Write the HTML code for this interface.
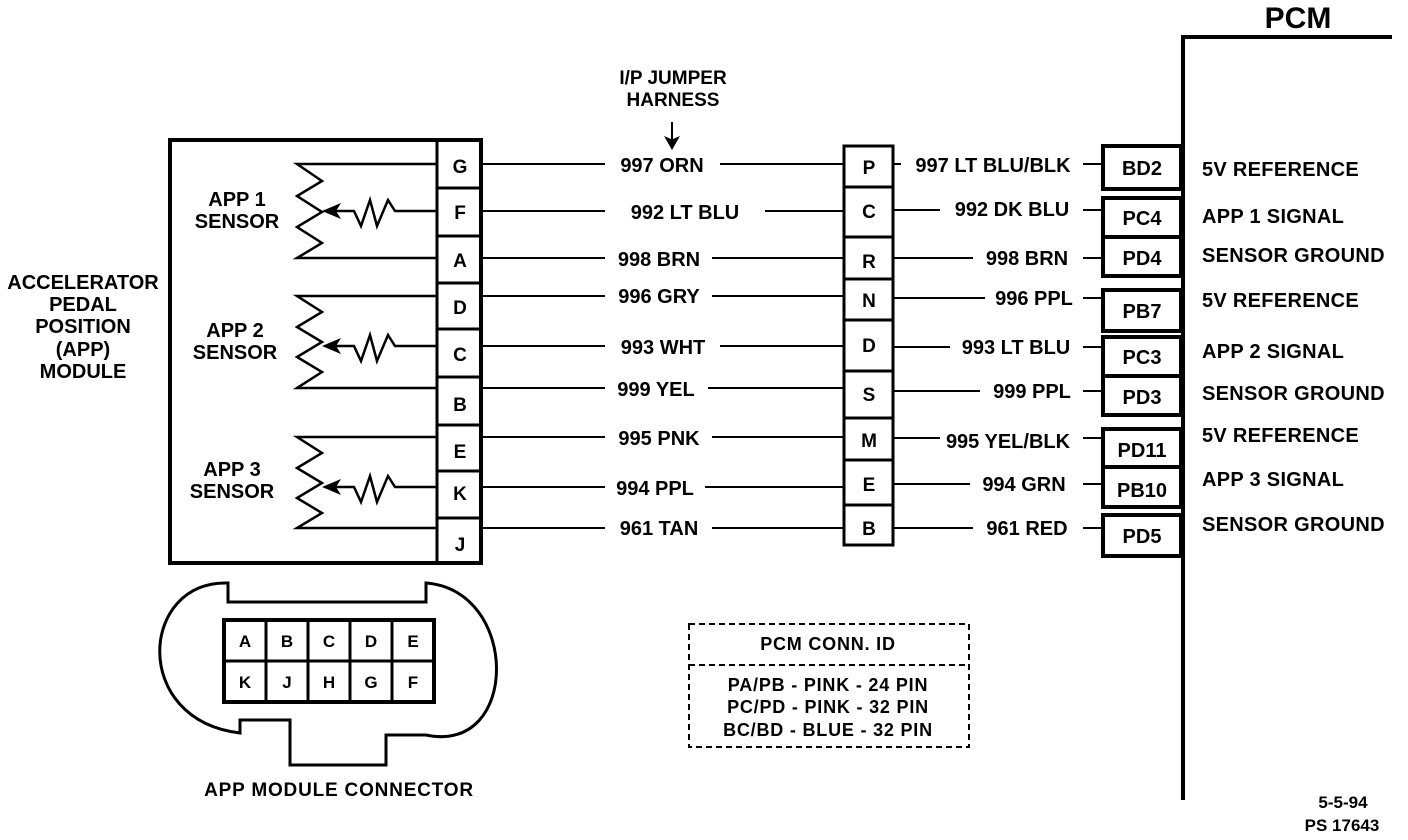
<!DOCTYPE html>
<html><head><meta charset="utf-8"><style>
html,body{margin:0;padding:0;background:#fff;}
svg{display:block;}
text{font-family:"Liberation Sans",sans-serif;font-weight:bold;fill:#000;}
</style></head><body>
<svg width="1408" height="840" viewBox="0 0 1408 840" xmlns="http://www.w3.org/2000/svg">
<g stroke="#000" fill="none">
<line x1="1183" y1="36" x2="1183" y2="800" stroke-width="4"/>
<line x1="1181" y1="37" x2="1392" y2="37" stroke-width="4"/>
<rect x="170" y="140" width="311" height="423" stroke-width="4"/>
<line x1="437" y1="140" x2="437" y2="563" stroke-width="3"/>
<g stroke-width="3">
<line x1="437" y1="188" x2="481" y2="188"/><line x1="437" y1="236" x2="481" y2="236"/>
<line x1="437" y1="283" x2="481" y2="283"/><line x1="437" y1="329" x2="481" y2="329"/>
<line x1="437" y1="377" x2="481" y2="377"/><line x1="437" y1="425" x2="481" y2="425"/>
<line x1="437" y1="471" x2="481" y2="471"/><line x1="437" y1="518" x2="481" y2="518"/>
</g>
<rect x="844" y="146" width="49" height="399" stroke-width="3"/>
<g stroke-width="3">
<line x1="844" y1="187" x2="893" y2="187"/><line x1="844" y1="237" x2="893" y2="237"/>
<line x1="844" y1="279" x2="893" y2="279"/><line x1="844" y1="320" x2="893" y2="320"/>
<line x1="844" y1="371" x2="893" y2="371"/><line x1="844" y1="418" x2="893" y2="418"/>
<line x1="844" y1="460" x2="893" y2="460"/><line x1="844" y1="505" x2="893" y2="505"/>
</g>
<g stroke-width="4">
<rect x="1103" y="146" width="78" height="43"/>
<rect x="1103" y="198" width="78" height="78"/>
<line x1="1103" y1="237" x2="1181" y2="237"/>
<rect x="1103" y="290" width="78" height="41"/>
<rect x="1103" y="337" width="78" height="78"/>
<line x1="1103" y1="376" x2="1181" y2="376"/>
<rect x="1103" y="429" width="78" height="78"/>
<line x1="1103" y1="467" x2="1181" y2="467"/>
<rect x="1103" y="515" width="78" height="41"/>
</g>
<g stroke-width="2">
<line x1="481" y1="164" x2="605" y2="164"/><line x1="720" y1="164" x2="844" y2="164"/>
<line x1="481" y1="211" x2="605" y2="211"/><line x1="765" y1="211" x2="844" y2="211"/>
<line x1="481" y1="258" x2="605" y2="258"/><line x1="712" y1="258" x2="844" y2="258"/>
<line x1="481" y1="296" x2="605" y2="296"/><line x1="712" y1="296" x2="844" y2="296"/>
<line x1="481" y1="346" x2="605" y2="346"/><line x1="720" y1="346" x2="844" y2="346"/>
<line x1="481" y1="388" x2="605" y2="388"/><line x1="708" y1="388" x2="844" y2="388"/>
<line x1="481" y1="437" x2="605" y2="437"/><line x1="712" y1="437" x2="844" y2="437"/>
<line x1="481" y1="487" x2="605" y2="487"/><line x1="705" y1="487" x2="844" y2="487"/>
<line x1="481" y1="528" x2="605" y2="528"/><line x1="712" y1="528" x2="844" y2="528"/>
<line x1="893" y1="164" x2="901" y2="164"/><line x1="1083" y1="164" x2="1103" y2="164"/>
<line x1="893" y1="210" x2="940" y2="210"/><line x1="1083" y1="210" x2="1103" y2="210"/>
<line x1="893" y1="258" x2="973" y2="258"/><line x1="1083" y1="258" x2="1103" y2="258"/>
<line x1="893" y1="298" x2="985" y2="298"/><line x1="1083" y1="298" x2="1103" y2="298"/>
<line x1="893" y1="347" x2="950" y2="347"/><line x1="1083" y1="347" x2="1103" y2="347"/>
<line x1="893" y1="391" x2="980" y2="391"/><line x1="1083" y1="391" x2="1103" y2="391"/>
<line x1="893" y1="438" x2="940" y2="438"/><line x1="1083" y1="438" x2="1103" y2="438"/>
<line x1="893" y1="484" x2="970" y2="484"/><line x1="1083" y1="484" x2="1103" y2="484"/>
<line x1="893" y1="528" x2="973" y2="528"/><line x1="1083" y1="528" x2="1103" y2="528"/>
</g>
<g stroke-width="2.5">
<polyline points="437,164 297,164 322,181 297,196 322,212 297,227 322,243 297,258 437,258"/>
<polyline points="437,211 395,211 388,200 377,226 370,200 361,226 354,211 333,211"/>
<polyline points="437,296 297,296 322,312 297,327 322,342 297,357 322,372 297,388 437,388"/>
<polyline points="437,346 395,346 388,335 377,361 370,335 361,361 354,346 333,346"/>
<polyline points="437,437 297,437 322,453 297,468 322,483 297,498 322,513 297,528 437,528"/>
<polyline points="437,487 395,487 388,476 377,502 370,476 361,502 354,487 333,487"/>
</g>
<g fill="#000" stroke="none">
<polygon points="322,211 341,203 336,211 341,219"/>
<polygon points="322,346 341,338 336,346 341,354"/>
<polygon points="322,487 341,479 336,487 341,495"/>
<polygon points="672,150 664,136 671,139 671,122 673,122 673,139 680,136"/>
</g>
<path d="M228,583 L228,602 L426,602 L426,583 C520,590 520,755 426,735 L386,735 L386,765 L290,765 L290,720 L240,720 L240,733 C130,720 140,580 228,583 Z" stroke-width="3"/>
<rect x="224" y="620" width="210" height="82" stroke-width="4"/>
<g stroke-width="3">
<line x1="224" y1="661" x2="434" y2="661"/>
<line x1="266" y1="620" x2="266" y2="702"/><line x1="308" y1="620" x2="308" y2="702"/>
<line x1="350" y1="620" x2="350" y2="702"/><line x1="392" y1="620" x2="392" y2="702"/>
</g>
<rect x="689" y="624" width="280" height="123" stroke-width="2" stroke-dasharray="6,4"/>
<line x1="689" y1="665" x2="969" y2="665" stroke-width="2" stroke-dasharray="6,4"/>
</g>
<g font-size="20" text-anchor="middle">
<text x="1298" y="28" font-size="30">PCM</text>
<text x="673" y="84" font-size="19">I/P JUMPER</text>
<text x="673" y="106" font-size="19">HARNESS</text>
<text x="83" y="289">ACCELERATOR</text>
<text x="83" y="311">PEDAL</text>
<text x="83" y="333">POSITION</text>
<text x="83" y="356">(APP)</text>
<text x="83" y="378">MODULE</text>
<text x="237" y="206">APP 1</text><text x="237" y="228">SENSOR</text>
<text x="235" y="337">APP 2</text><text x="235" y="359">SENSOR</text>
<text x="232" y="476">APP 3</text><text x="232" y="498">SENSOR</text>
<g font-size="19">
<text x="460" y="173">G</text><text x="460" y="219">F</text><text x="460" y="267">A</text>
<text x="460" y="314">D</text><text x="460" y="361">C</text><text x="460" y="411">B</text>
<text x="460" y="458">E</text><text x="460" y="500">K</text><text x="460" y="551">J</text>
<text x="869" y="174">P</text><text x="869" y="218">C</text><text x="869" y="268">R</text>
<text x="869" y="307">N</text><text x="869" y="352">D</text><text x="869" y="401">S</text>
<text x="869" y="447">M</text><text x="869" y="491">E</text><text x="869" y="535">B</text>
</g>
<text x="662" y="172">997 ORN</text>
<text x="685" y="219">992 LT BLU</text>
<text x="659" y="266">998 BRN</text>
<text x="659" y="303">996 GRY</text>
<text x="663" y="354">993 WHT</text>
<text x="656" y="396">999 YEL</text>
<text x="659" y="445">995 PNK</text>
<text x="655" y="495">994 PPL</text>
<text x="659" y="535">961 TAN</text>
<text x="993" y="172">997 LT BLU/BLK</text>
<text x="1012" y="216">992 DK BLU</text>
<text x="1027" y="265">998 BRN</text>
<text x="1034" y="305">996 PPL</text>
<text x="1016" y="354">993 LT BLU</text>
<text x="1032" y="398">999 PPL</text>
<text x="1008" y="448">995 YEL/BLK</text>
<text x="1024" y="491">994 GRN</text>
<text x="1027" y="535">961 RED</text>
<text x="1142" y="175">BD2</text>
<text x="1142" y="225">PC4</text>
<text x="1142" y="265">PD4</text>
<text x="1142" y="318">PB7</text>
<text x="1142" y="364">PC3</text>
<text x="1142" y="404">PD3</text>
<text x="1142" y="457">PD11</text>
<text x="1142" y="497">PB10</text>
<text x="1142" y="543">PD5</text>
</g>
<g font-size="20" text-anchor="start" letter-spacing="0.3">
<text x="1202" y="176">5V REFERENCE</text>
<text x="1202" y="223">APP 1 SIGNAL</text>
<text x="1202" y="262">SENSOR GROUND</text>
<text x="1202" y="307">5V REFERENCE</text>
<text x="1202" y="358">APP 2 SIGNAL</text>
<text x="1202" y="400">SENSOR GROUND</text>
<text x="1202" y="442">5V REFERENCE</text>
<text x="1202" y="486">APP 3 SIGNAL</text>
<text x="1202" y="531">SENSOR GROUND</text>
</g>
<g font-size="17" text-anchor="middle">
<text x="245" y="647">A</text><text x="287" y="647">B</text><text x="329" y="647">C</text><text x="371" y="647">D</text><text x="413" y="647">E</text>
<text x="245" y="688">K</text><text x="287" y="688">J</text><text x="329" y="688">H</text><text x="371" y="688">G</text><text x="413" y="688">F</text>
</g>
<g font-size="18" text-anchor="middle" letter-spacing="0.8">
<text x="828" y="650">PCM CONN. ID</text>
<text x="828" y="691">PA/PB - PINK - 24 PIN</text>
<text x="828" y="713">PC/PD - PINK - 32 PIN</text>
<text x="828" y="736">BC/BD - BLUE - 32 PIN</text>
<text x="339" y="796" font-size="19">APP MODULE CONNECTOR</text>
<text x="1343" y="808" font-size="17" letter-spacing="0">5-5-94</text>
<text x="1342" y="831" font-size="17" letter-spacing="0">PS 17643</text>
</g>
</svg>
</body></html>
